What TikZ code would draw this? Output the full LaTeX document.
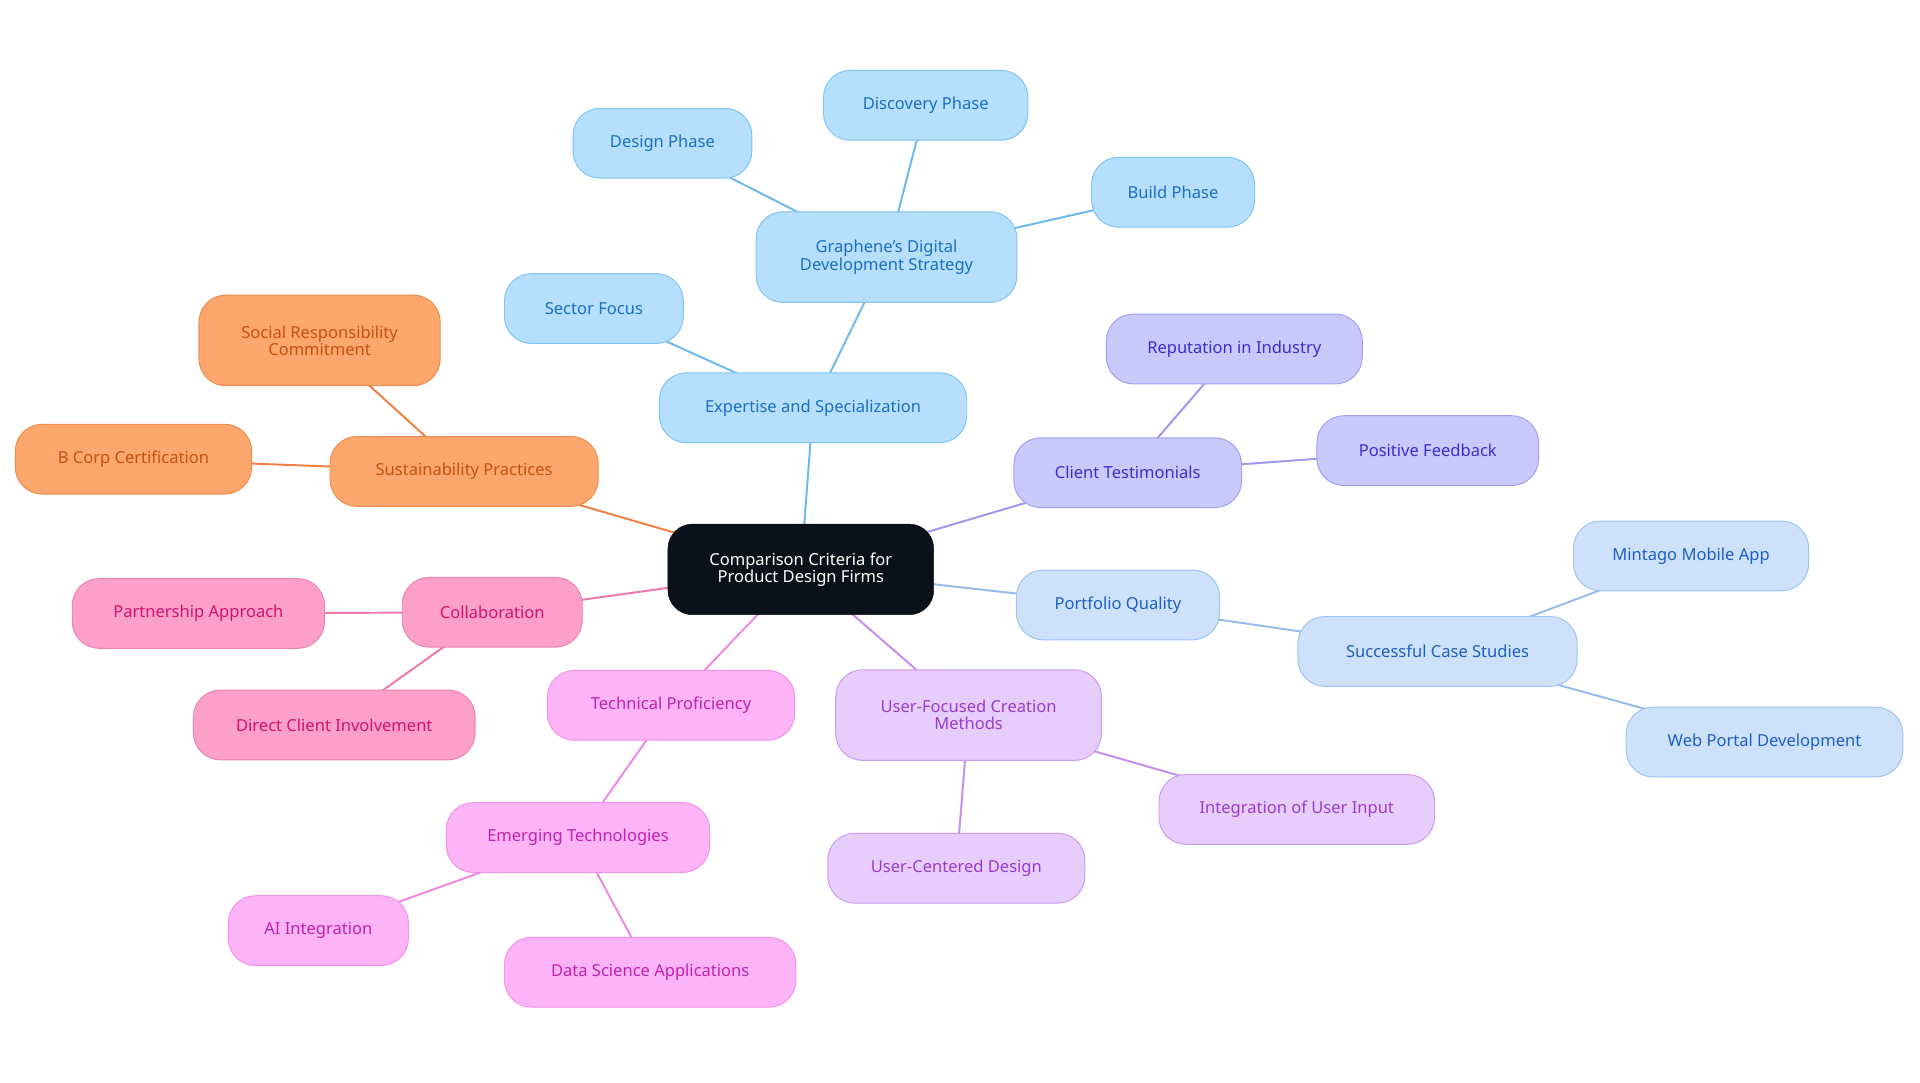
\documentclass[tikz,border=0pt]{standalone}
\usepackage{fontspec}
\setmainfont{Noto Sans}
\usetikzlibrary{backgrounds}
\definecolor{bF}{HTML}{B5DFFC}\definecolor{bS}{HTML}{7FC4F3}\definecolor{bT}{HTML}{1C6FC0}\definecolor{bE}{HTML}{6CB9EF}
\definecolor{cF}{HTML}{CAC9FB}\definecolor{cS}{HTML}{A29EF0}\definecolor{cT}{HTML}{3A2FC8}\definecolor{cE}{HTML}{9D98EE}
\definecolor{pF}{HTML}{CDE1FA}\definecolor{pS}{HTML}{9FC3F0}\definecolor{pT}{HTML}{1F5FC0}\definecolor{pE}{HTML}{93BCEB}
\definecolor{uF}{HTML}{E7CDFB}\definecolor{uS}{HTML}{CC9AF0}\definecolor{uT}{HTML}{9A3BD0}\definecolor{uE}{HTML}{C68CF0}
\definecolor{tF}{HTML}{FDB4F6}\definecolor{tS}{HTML}{F292EA}\definecolor{tT}{HTML}{C022B0}\definecolor{tE}{HTML}{EE88E0}
\definecolor{kF}{HTML}{FC9FC9}\definecolor{kS}{HTML}{EC82B2}\definecolor{kT}{HTML}{D0146E}\definecolor{kE}{HTML}{EC78AC}
\definecolor{sF}{HTML}{FDA76F}\definecolor{sS}{HTML}{EF8B4B}\definecolor{sT}{HTML}{C4520E}\definecolor{sE}{HTML}{F08040}
\definecolor{rootF}{HTML}{0B111A}
\tikzset{
 bx/.style args={#1/#2}{draw=#1S,fill=#1F,text=#1T,rounded corners=22pt,minimum width=#2pt,minimum height=57pt,align=center,font=\fontsize{13.5}{14}\selectfont,inner sep=2pt,line width=0.8pt},
 tall/.style={minimum height=74pt},
 ed/.style={draw=#1E,line width=1.6pt}
}
\begin{document}
\begin{tikzpicture}[x=1pt,y=-1pt]
\useasboundingbox (0,0) rectangle (1568,884);
\node[bx=b/251] (exp) at (664,333) {Expertise and Specialization};
\node[bx=b/146] (sec) at (485,252) {Sector Focus};
\node[bx=b/213,tall] (gra) at (724,210) {Graphene's Digital\\Development Strategy};
\node[bx=b/146] (des) at (541,117) {Design Phase};
\node[bx=b/167] (dis) at (756,86) {Discovery Phase};
\node[bx=b/133] (bui) at (958,157) {Build Phase};
\node[bx=c/186] (cli) at (921,386) {Client Testimonials};
\node[bx=c/209] (rep) at (1008,285) {Reputation in Industry};
\node[bx=c/181] (pos) at (1166,368) {Positive Feedback};
\node[bx=p/166] (por) at (913,494) {Portfolio Quality};
\node[bx=p/228] (suc) at (1174,532) {Successful Case Studies};
\node[bx=p/192] (min) at (1381,454) {Mintago Mobile App};
\node[bx=p/226] (web) at (1441,606) {Web Portal Development};
\node[bx=u/217,tall] (usr) at (791,584) {User-Focused Creation\\Methods};
\node[bx=u/225] (int) at (1059,661) {Integration of User Input};
\node[bx=u/210] (ucd) at (781,709) {User-Centered Design};
\node[bx=t/202] (tec) at (548,576) {Technical Proficiency};
\node[bx=t/215] (eme) at (472,684) {Emerging Technologies};
\node[bx=t/147] (ai) at (260,760) {AI Integration};
\node[bx=t/238] (dat) at (531,794) {Data Science Applications};
\node[bx=k/147] (col) at (402,500) {Collaboration};
\node[bx=k/206] (par) at (162,501) {Partnership Approach};
\node[bx=k/230] (dir) at (273,592) {Direct Client Involvement};
\node[bx=s/219] (sus) at (379,385) {Sustainability Practices};
\node[bx=s/197,tall] (soc) at (261,278) {Social Responsibility\\Commitment};
\node[bx=s/193] (bco) at (109,375) {B Corp Certification};
\node[draw=rootF,fill=rootF,text=white,rounded corners=20pt,minimum width=217pt,minimum height=74pt,align=center,font=\fontsize{13.5}{14}\selectfont] (root) at (654,465) {Comparison Criteria for\\Product Design Firms};
\begin{pgfonlayer}{background}
\draw[ed=b] (root.center) -- (exp.center) (exp.center) -- (sec.center) (exp.center) -- (gra.center)
  (gra.center) -- (des.center) (gra.center) -- (dis.center) (gra.center) -- (bui.center);
\draw[ed=c] (root.center) -- (cli.center) (cli.center) -- (rep.center) (cli.center) -- (pos.center);
\draw[ed=p] (root.center) -- (por.center) (por.center) -- (suc.center) (suc.center) -- (min.center) (suc.center) -- (web.center);
\draw[ed=u] (root.center) -- (usr.center) (usr.center) -- (int.center) (usr.center) -- (ucd.center);
\draw[ed=t] (root.center) -- (tec.center) (tec.center) -- (eme.center) (eme.center) -- (ai.center) (eme.center) -- (dat.center);
\draw[ed=k] (root.center) -- (col.center) (col.center) -- (par.center) (col.center) -- (dir.center);
\draw[ed=s] (root.center) -- (sus.center) (sus.center) -- (soc.center) (sus.center) -- (bco.center);
\end{pgfonlayer}
\end{tikzpicture}
\end{document}
